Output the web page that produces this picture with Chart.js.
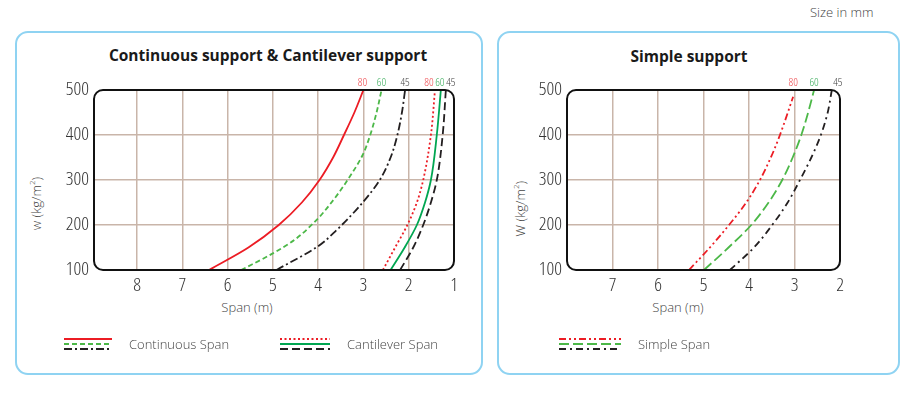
<!DOCTYPE html>
<html>
<head>
<meta charset="utf-8">
<script src="https://cdn.jsdelivr.net/npm/chart.js@4.4.1/dist/chart.umd.min.js"></script>
<style>
  body { margin: 0; width: 914px; height: 398px; background: #fff; position: relative; overflow: hidden; font-family: "Open Sans", sans-serif; }
  .panel { position: absolute; border: 2px solid #8fd3f2; border-radius: 13px; box-sizing: border-box; }
  .wrap { position: absolute; }
  .txt { position: absolute; white-space: nowrap; color: #444; font-weight: 300; }
  .title { position: absolute; width: 400px; text-align: center; font-weight: 700; font-size: 15.5px; line-height: 18px; color: #1a1a1a; }
  .ytitle { position: absolute; width: 120px; text-align: center; font-size: 13px; line-height: 16px; color: #444; font-weight: 300; transform: rotate(-90deg); }
</style>
</head>
<body>
<div class="panel" style="left:15px;top:31px;width:468px;height:344px"></div>
<div class="panel" style="left:497px;top:31px;width:403px;height:344px"></div>

<div class="txt" style="left:810px;top:3px;font-size:13px;line-height:18px">Size in mm</div>
<div class="title" style="left:68px;top:46px">Continuous support &amp; Cantilever support</div>
<div class="title" style="left:489px;top:47px">Simple support</div>
<div class="ytitle" style="left:-26px;top:194px">w (kg/m<sup style="font-size:8px">2</sup>)</div>
<div class="ytitle" style="left:458px;top:199px">W (kg/m<sup style="font-size:8px">2</sup>)</div>
<div class="txt" style="left:197px;top:299px;width:100px;text-align:center;font-size:13px;line-height:16px">Span (m)</div>
<div class="txt" style="left:628px;top:299px;width:100px;text-align:center;font-size:13px;line-height:16px">Span (m)</div>

<div class="wrap" style="left:15px;top:31px"><canvas id="leftChart" width="468" height="343"></canvas></div>
<div class="wrap" style="left:497px;top:31px"><canvas id="rightChart" width="403" height="343"></canvas></div>

<script>
// values: load w (kg/m2) -> max span (m)
const yTicks = [100, 200, 300, 400, 500];
const xTicksLeft = [8, 7, 6, 5, 4, 3, 2, 1];
const xTicksRight = [7, 6, 5, 4, 3, 2];

const contLoad80 = [100, 150, 200, 250, 300, 350, 400, 450, 500];
const contSpan80 = [6.41, 5.54, 4.87, 4.36, 3.97, 3.67, 3.43, 3.2, 3.0];
const contLoad60 = [100, 137, 168, 215, 256, 300, 355, 400, 450, 500];
const contSpan60 = [5.70, 5.0, 4.51, 4.0, 3.66, 3.35, 3.02, 2.85, 2.71, 2.60];
const contLoad45 = [100, 153, 186, 252, 300, 350, 400, 450, 500];
const contSpan45 = [4.92, 4.0, 3.62, 3.0, 2.64, 2.40, 2.25, 2.15, 2.08];

const cantLoad = [100, 150, 200, 250, 300, 400, 500];
const cantSpan80 = [2.57, 2.30, 2.03, 1.82, 1.68, 1.51, 1.42];
const cantSpan60 = [2.40, 2.09, 1.82, 1.64, 1.51, 1.38, 1.29];
const cantSpan45 = [2.19, 1.90, 1.68, 1.51, 1.38, 1.25, 1.18];

const simpLoad80 = [100, 150, 200, 250, 300, 350, 400, 485];
const simpSpan80 = [5.32, 4.86, 4.44, 4.06, 3.76, 3.52, 3.32, 3.03];
const simpLoad60 = [100, 150, 200, 250, 300, 350, 400, 450, 500];
const simpSpan60 = [4.99, 4.45, 3.95, 3.57, 3.27, 3.04, 2.85, 2.70, 2.57];
const simpLoad45 = [100, 150, 200, 250, 300, 350, 400, 450, 500];
const simpSpan45 = [4.42, 3.89, 3.49, 3.15, 2.88, 2.63, 2.42, 2.27, 2.18];

const RED = "#ec1c24";
const LGREEN = "#4cb848";
const GREEN = "#00a651";
const BLACK = "#231f20";
const GRID = "#c9b5a9";
const TICK_FONT = "'Open Sans', sans-serif";

function pts(spans, loads) {
  return spans.map((s, i) => ({ x: s, y: loads[i] }));
}

function line(label, spans, loads, color, dash, tag, tagColor, tagDx) {
  return {
    label: label,
    data: pts(spans, loads),
    borderColor: color,
    borderDash: dash,
    borderWidth: 1.8,
    pointRadius: 0,
    cubicInterpolationMode: "monotone",
    fill: false,
    tag: tag,
    tagColor: tagColor,
    tagDx: tagDx || 0,
  };
}

// rounded black frame round the plot area
const framePlugin = {
  id: "frame",
  afterDatasetsDraw(chart) {
    const a = chart.chartArea;
    const ctx = chart.ctx;
    ctx.save();
    ctx.strokeStyle = "#111";
    ctx.lineWidth = 2;
    ctx.beginPath();
    ctx.roundRect(a.left, a.top, a.right - a.left, a.bottom - a.top, 9);
    ctx.stroke();
    ctx.restore();
  },
};

// thickness labels above the end of each curve
const tagPlugin = {
  id: "tags",
  afterDatasetsDraw(chart) {
    const ctx = chart.ctx;
    ctx.save();
    ctx.font = "300 condensed 11.5px " + TICK_FONT;
    ctx.textAlign = "center";
    ctx.textBaseline = "alphabetic";
    chart.data.datasets.forEach((ds, i) => {
      const meta = chart.getDatasetMeta(i);
      const last = meta.data[meta.data.length - 1];
      ctx.fillStyle = ds.tagColor;
      ctx.fillText(ds.tag, last.x + ds.tagDx, chart.chartArea.top - 4);
    });
    ctx.restore();
  },
};

function legendPlugin(groups) {
  return {
    id: "spanLegend",
    afterDraw(chart) {
      const ctx = chart.ctx;
      ctx.save();
      groups.forEach((g) => {
        g.datasets.forEach((di, k) => {
          const ds = chart.data.datasets[di];
          const y = g.y + k * 5;
          ctx.strokeStyle = ds.borderColor;
          ctx.lineWidth = 1.8;
          ctx.setLineDash(ds.borderDash || []);
          ctx.beginPath();
          ctx.moveTo(g.x, y);
          ctx.lineTo(g.x + g.w, y);
          ctx.stroke();
        });
        ctx.setLineDash([]);
        ctx.fillStyle = "#444";
        ctx.font = "300 13px 'Open Sans', sans-serif";
        ctx.textBaseline = "middle";
        ctx.fillText(g.text, g.x + g.w + 17, g.y + 6);
      });
      ctx.restore();
    },
  };
}

function scales(xMin, xMax, xTicks, yWidth) {
  const edge = (ctx) =>
    ctx.tick && (ctx.tick.value === ctx.scale.min || ctx.tick.value === ctx.scale.max)
      ? "rgba(0,0,0,0)"
      : GRID;
  const tickFont = { family: TICK_FONT, size: 19, weight: "300 condensed" };
  return {
    x: {
      type: "linear",
      reverse: true,
      min: xMin,
      max: xMax,
      afterBuildTicks: (s) => { s.ticks = xTicks.map((v) => ({ value: v })); },
      afterFit: (s) => { s.height = 30; },
      border: { display: false },
      grid: { color: edge, lineWidth: 1.5, drawTicks: false },
      ticks: { color: "#333", padding: 4, font: tickFont, maxRotation: 0 },
    },
    y: {
      type: "linear",
      min: 100,
      max: 500,
      afterBuildTicks: (s) => { s.ticks = yTicks.map((v) => ({ value: v })); },
      afterFit: (s) => { s.width = yWidth; },
      border: { display: false },
      grid: { color: edge, lineWidth: 1.5, drawTicks: false },
      ticks: { color: "#333", padding: 5, font: tickFont },
    },
  };
}

new Chart(document.getElementById("leftChart"), {
  type: "line",
  data: {
    datasets: [
      line("Continuous 80", contSpan80, contLoad80, RED, [], "80", "#ee4a4f", -1),
      line("Continuous 60", contSpan60, contLoad60, LGREEN, [5, 3], "60", "#3fae5f", 0),
      line("Continuous 45", contSpan45, contLoad45, BLACK, [8, 3, 2, 3], "45", "#444", 0),
      line("Cantilever 80", cantSpan80, cantLoad, RED, [2, 2.5], "80", "#ee4a4f", -6),
      line("Cantilever 60", cantSpan60, cantLoad, GREEN, [], "60", "#3fae5f", -1),
      line("Cantilever 45", cantSpan45, cantLoad, BLACK, [8, 4], "45", "#444", 5),
    ],
  },
  options: {
    responsive: false,
    animation: false,
    indexAxis: "y",
    layout: { padding: { left: 29, right: 29, top: 59, bottom: 74 } },
    plugins: { legend: { display: false }, tooltip: { enabled: false } },
    scales: scales(1, 8.95, xTicksLeft, 50),
  },
  plugins: [
    framePlugin,
    tagPlugin,
    legendPlugin([
      { text: "Continuous Span", datasets: [0, 1, 2], x: 49, y: 308, w: 48 },
      { text: "Cantilever Span", datasets: [3, 4, 5], x: 265, y: 308, w: 50 },
    ]),
  ],
});

new Chart(document.getElementById("rightChart"), {
  type: "line",
  data: {
    datasets: [
      line("Simple 80", simpSpan80, simpLoad80, RED, [7, 3, 2, 3, 2, 3], "80", "#ee4a4f", 0),
      line("Simple 60", simpSpan60, simpLoad60, LGREEN, [10, 4], "60", "#3fae5f", 0),
      line("Simple 45", simpSpan45, simpLoad45, BLACK, [7, 4, 2, 4], "45", "#444", 6),
    ],
  },
  options: {
    responsive: false,
    animation: false,
    indexAxis: "y",
    layout: { padding: { left: 20, right: 60, top: 59, bottom: 74 } },
    plugins: { legend: { display: false }, tooltip: { enabled: false } },
    scales: scales(2, 8, xTicksRight, 50),
  },
  plugins: [
    framePlugin,
    tagPlugin,
    legendPlugin([
      { text: "Simple Span", datasets: [0, 1, 2], x: 62, y: 308, w: 62 },
    ]),
  ],
});
</script>
</body>
</html>
